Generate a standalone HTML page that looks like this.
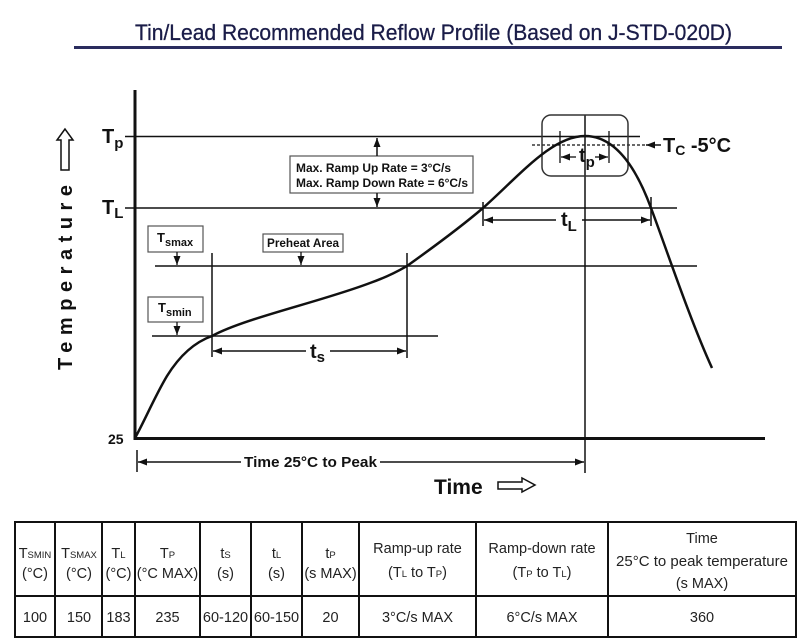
<!DOCTYPE html>
<html><head><meta charset="utf-8"><style>
html,body{margin:0;padding:0;background:#fff;}
svg{display:block;}
</style></head><body>
<svg width="807" height="643" viewBox="0 0 807 643" xmlns="http://www.w3.org/2000/svg">
<defs>
<marker id="ah" markerUnits="userSpaceOnUse" markerWidth="9" markerHeight="7" refX="9" refY="3.5" orient="auto-start-reverse"><path d="M0,0 L9,3.5 L0,7 z" fill="#111"/></marker>
</defs>
<rect width="807" height="643" fill="#fff"/>
<!-- Title -->
<text x="135" y="40" font-family="Liberation Sans, sans-serif" font-size="22" fill="#1a1c48" stroke="#1a1c48" stroke-width="0.3" textLength="597" lengthAdjust="spacingAndGlyphs">Tin/Lead Recommended Reflow Profile (Based on J-STD-020D)</text>
<rect x="74" y="46" width="708" height="3" fill="#2a2c5e"/>

<g font-family="Liberation Sans, Arial, sans-serif" font-weight="bold" fill="#111" stroke="none">
<!-- Y label -->
<polygon points="65,129 57,140 61,140 61,170 69,170 69,140 73,140" fill="#fff" stroke="#111" stroke-width="1.5"/>
<text transform="translate(72,370) rotate(-90)" font-size="20" textLength="185" lengthAdjust="spacing">Temperature</text>

<!-- axes -->
<line x1="135" y1="90" x2="135" y2="440" stroke="#111" stroke-width="3"/>
<line x1="134" y1="438.5" x2="765" y2="438.5" stroke="#111" stroke-width="3"/>

<!-- horizontal levels -->
<line x1="125" y1="136.5" x2="640" y2="136.5" stroke="#111" stroke-width="1.5"/>
<line x1="125" y1="208" x2="677" y2="208" stroke="#111" stroke-width="1.5"/>
<line x1="155" y1="266" x2="697" y2="266" stroke="#111" stroke-width="1.5"/>
<line x1="152" y1="336" x2="438" y2="336" stroke="#111" stroke-width="1.5"/>
<line x1="532" y1="145" x2="645" y2="145" stroke="#111" stroke-width="1.3" stroke-dasharray="3,2"/>

<!-- verticals -->
<line x1="212" y1="253" x2="212" y2="357" stroke="#111" stroke-width="1.5"/>
<line x1="407" y1="253" x2="407" y2="358" stroke="#111" stroke-width="1.5"/>
<line x1="483" y1="202" x2="483" y2="226" stroke="#111" stroke-width="1.5"/>
<line x1="651" y1="197" x2="651" y2="226" stroke="#111" stroke-width="1.5"/>
<line x1="585" y1="115" x2="585" y2="473" stroke="#111" stroke-width="1.5"/>
<line x1="560" y1="131" x2="560" y2="163" stroke="#111" stroke-width="1.3"/>
<line x1="609" y1="131" x2="609" y2="163" stroke="#111" stroke-width="1.3"/>
<line x1="137" y1="450" x2="137" y2="472" stroke="#111" stroke-width="1.5"/>

<!-- peak box -->
<rect x="542" y="115" width="86" height="61" rx="9" fill="none" stroke="#333" stroke-width="1.5"/>

<!-- curve -->
<path d="M135,438 C145,420 155,396 167,376 C180,355 195,342 212,336 C245,318 320,302 370,283 C390,276 400,270 407,266 C435,246 462,226 483,208 C520,175 552,136 585,136 C620,136 640,178 651,208 C665,245 690,320 712,368" fill="none" stroke="#111" stroke-width="2.5"/>

<!-- labels Tp TL 25 -->
<text x="102" y="143" font-size="20">T<tspan font-size="15" dy="5">p</tspan></text>
<text x="102" y="214" font-size="20">T<tspan font-size="15" dy="4">L</tspan></text>
<text x="108" y="444" font-size="14">25</text>

<!-- Max ramp box -->
<rect x="290" y="156" width="183" height="37" fill="#fff" stroke="#555" stroke-width="1.2"/>
<text x="296" y="172" font-size="11.5" textLength="155" lengthAdjust="spacingAndGlyphs">Max. Ramp Up Rate = 3°C/s</text>
<text x="296" y="187" font-size="11.5" textLength="172" lengthAdjust="spacingAndGlyphs">Max. Ramp Down Rate = 6°C/s</text>
<line x1="377" y1="156" x2="377" y2="138" stroke="#111" stroke-width="1.5" marker-end="url(#ah)"/>
<line x1="377" y1="193" x2="377" y2="207" stroke="#111" stroke-width="1.5" marker-end="url(#ah)"/>

<!-- Tsmax box -->
<rect x="148" y="226" width="55" height="26" fill="#fff" stroke="#555" stroke-width="1.2"/>
<text x="157" y="242" font-size="13">T<tspan font-size="11" dy="4">smax</tspan></text>
<line x1="177" y1="252" x2="177" y2="265" stroke="#111" stroke-width="1.3" marker-end="url(#ah)"/>

<!-- Preheat -->
<rect x="263" y="234" width="80" height="18" fill="#fff" stroke="#555" stroke-width="1.2"/>
<text x="267" y="247" font-size="11.5" textLength="72" lengthAdjust="spacingAndGlyphs">Preheat Area</text>
<line x1="301" y1="252" x2="301" y2="265" stroke="#111" stroke-width="1.3" marker-end="url(#ah)"/>

<!-- Tsmin box -->
<rect x="148" y="297" width="55" height="25" fill="#fff" stroke="#555" stroke-width="1.2"/>
<text x="158" y="312" font-size="13">T<tspan font-size="11" dy="4">smin</tspan></text>
<line x1="177" y1="322" x2="177" y2="335" stroke="#111" stroke-width="1.3" marker-end="url(#ah)"/>

<!-- ts -->
<line x1="306" y1="351" x2="213" y2="351" stroke="#111" stroke-width="1.5" marker-end="url(#ah)"/>
<line x1="330" y1="351" x2="406" y2="351" stroke="#111" stroke-width="1.5" marker-end="url(#ah)"/>
<text x="310" y="358" font-size="20">t<tspan font-size="15" dy="4">s</tspan></text>

<!-- tL -->
<line x1="556" y1="220" x2="484" y2="220" stroke="#111" stroke-width="1.5" marker-end="url(#ah)"/>
<line x1="582" y1="220" x2="650" y2="220" stroke="#111" stroke-width="1.5" marker-end="url(#ah)"/>
<text x="561" y="226" font-size="20">t<tspan font-size="15" dy="5">L</tspan></text>

<!-- tp -->
<line x1="576" y1="157" x2="561" y2="157" stroke="#111" stroke-width="1.3" marker-end="url(#ah)"/>
<line x1="595" y1="157" x2="608" y2="157" stroke="#111" stroke-width="1.3" marker-end="url(#ah)"/>
<text x="579" y="162" font-size="20">t<tspan font-size="15" dy="5">p</tspan></text>

<!-- Tc -->
<line x1="661" y1="145" x2="646" y2="145" stroke="#111" stroke-width="1.5" marker-end="url(#ah)"/>
<text x="663" y="152" font-size="20">T<tspan font-size="14" dy="3">C</tspan><tspan dy="-3"> -5°C</tspan></text>

<!-- Time 25C to peak -->
<line x1="138" y1="462" x2="584" y2="462" stroke="#111" stroke-width="1.5" marker-start="url(#ah)" marker-end="url(#ah)"/>
<rect x="241" y="452" width="139" height="20" fill="#fff"/>
<text x="244" y="467" font-size="14.5" textLength="133" lengthAdjust="spacingAndGlyphs">Time 25°C to Peak</text>

<!-- Time axis label -->
<text x="434" y="494" font-size="21">Time</text>
<polygon points="498,482 522,482 522,478 535,485 522,492 522,489 498,489" fill="#fff" stroke="#111" stroke-width="1.5"/>
</g>

<!-- Table -->
<g stroke="#111" stroke-width="2" fill="none">
<rect x="15" y="522" width="781" height="115"/>
<line x1="15" y1="596" x2="796" y2="596"/>
<line x1="55" y1="522" x2="55" y2="637"/>
<line x1="102" y1="522" x2="102" y2="637"/>
<line x1="135" y1="522" x2="135" y2="637"/>
<line x1="200" y1="522" x2="200" y2="637"/>
<line x1="251" y1="522" x2="251" y2="637"/>
<line x1="302" y1="522" x2="302" y2="637"/>
<line x1="359" y1="522" x2="359" y2="637"/>
<line x1="476" y1="522" x2="476" y2="637"/>
<line x1="608" y1="522" x2="608" y2="637"/>
</g>
<g font-family="Liberation Sans, Arial, sans-serif" font-size="14.5" fill="#222" text-anchor="middle">
<text x="35" y="558">T<tspan font-size="9.5">SMIN</tspan></text>
<text x="35" y="578">(°C)</text>
<text x="79" y="558">T<tspan font-size="9.5">SMAX</tspan></text>
<text x="79" y="578">(°C)</text>
<text x="118.5" y="558">T<tspan font-size="9.5">L</tspan></text>
<text x="118.5" y="578">(°C)</text>
<text x="167.5" y="558">T<tspan font-size="9.5">P</tspan></text>
<text x="167.5" y="578">(°C MAX)</text>
<text x="225.5" y="558">t<tspan font-size="9.5">S</tspan></text>
<text x="225.5" y="578">(s)</text>
<text x="276.5" y="558">t<tspan font-size="9.5">L</tspan></text>
<text x="276.5" y="578">(s)</text>
<text x="330.5" y="558">t<tspan font-size="9.5">P</tspan></text>
<text x="330.5" y="578">(s MAX)</text>
<text x="417.5" y="553">Ramp-up rate</text>
<text x="417.5" y="577">(T<tspan font-size="9.5">L</tspan> to T<tspan font-size="9.5">P</tspan>)</text>
<text x="542" y="553">Ramp-down rate</text>
<text x="542" y="577">(T<tspan font-size="9.5">P</tspan> to T<tspan font-size="9.5">L</tspan>)</text>
<text x="702" y="543">Time</text>
<text x="702" y="566" font-size="15">25°C to peak temperature</text>
<text x="702" y="588">(s MAX)</text>
<text x="35" y="622">100</text>
<text x="79" y="622">150</text>
<text x="118.5" y="622">183</text>
<text x="167.5" y="622">235</text>
<text x="225.5" y="622">60-120</text>
<text x="276.5" y="622">60-150</text>
<text x="330.5" y="622">20</text>
<text x="417.5" y="622">3°C/s MAX</text>
<text x="542" y="622">6°C/s MAX</text>
<text x="702" y="622">360</text>
</g>
</svg>
</body></html>
